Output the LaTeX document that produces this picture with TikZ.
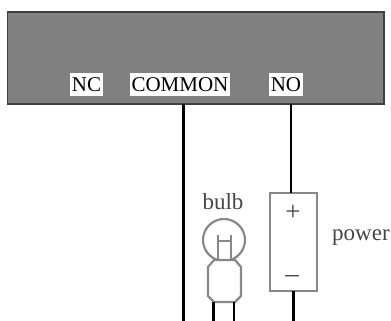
\documentclass[tikz,border=0pt]{standalone}
\usepackage{fontspec}
\setmainfont{Liberation Serif}
\definecolor{relaygray}{RGB}{128,128,128}
\definecolor{edgegray}{RGB}{64,64,64}
\definecolor{partgray}{RGB}{136,136,136}
\definecolor{inkgray}{RGB}{70,70,70}
\tikzset{
  x=1pt,y=-1pt,
  relaybox/.style={draw=edgegray,fill=relaygray,line width=1.5pt,minimum width=376.5pt,minimum height=92pt,inner sep=0pt},
  term/.style={fill=white,inner sep=0pt,text=black,font=\fontsize{21}{21}\selectfont,minimum height=23pt},
  wire/.style={draw=black,line width=2.5pt},
  part/.style={draw=partgray,line width=2.2pt},
  lab/.style={text=inkgray,inner sep=0pt,font=\fontsize{23}{23}\selectfont},
  sign/.style={text=inkgray,inner sep=0pt,font=\fontsize{27}{27}\selectfont},
}
\begin{document}
\begin{tikzpicture}
\useasboundingbox (0,0) rectangle (391,321);
\node[relaybox] (relay) at (195.75,58) {};
\node[term,minimum width=33pt] (nc) at (86.5,84.5) {NC};
\node[term,minimum width=100pt] (common) at (180,84.5) {COMMON};
\node[term,minimum width=34pt] (no) at (286,84.5) {NO};
\coordinate (commonOut) at (183.5,104);
\coordinate (commonEnd) at (183.5,321);
\coordinate (noOut) at (291,104);
\node[part,draw,minimum width=47pt,minimum height=98pt,inner sep=0pt] (supply) at (293.5,242) {};
\coordinate (noIn) at (291,193);
\coordinate (supOut) at (293.5,291);
\coordinate (supEnd) at (293.5,321);
\draw[wire] (commonOut) -- (commonEnd);
\draw[wire] (noOut) -- (noIn);
\draw[wire] (supOut) -- (supEnd);
\node[sign] (plus) at (293,213) {+};
\node[sign] (minus) at (292,279) {\char"2013};
\node[lab] (bulblab) at (223,202) {bulb};
\node[lab,anchor=west] (powerlab) at (332,238) {power};
% bulb
\node[part,draw,circle,minimum size=42pt,inner sep=0pt] (glass) at (224,240) {};
\draw[part,fill=white] (214,260) -- (235,260) -- (241,267) -- (241,296) -- (235,302) -- (214,302) -- (208,296) -- (208,267) -- cycle;
\coordinate (f1) at (218,235);
\coordinate (f2) at (231,235);
\draw[part] (f1) -- (218,260) (f2) -- (231,260) (218,241) -- (231,241);
\draw[wire] (213.5,302) -- (213.5,321) (234,302) -- (234,321);
\end{tikzpicture}
\end{document}
